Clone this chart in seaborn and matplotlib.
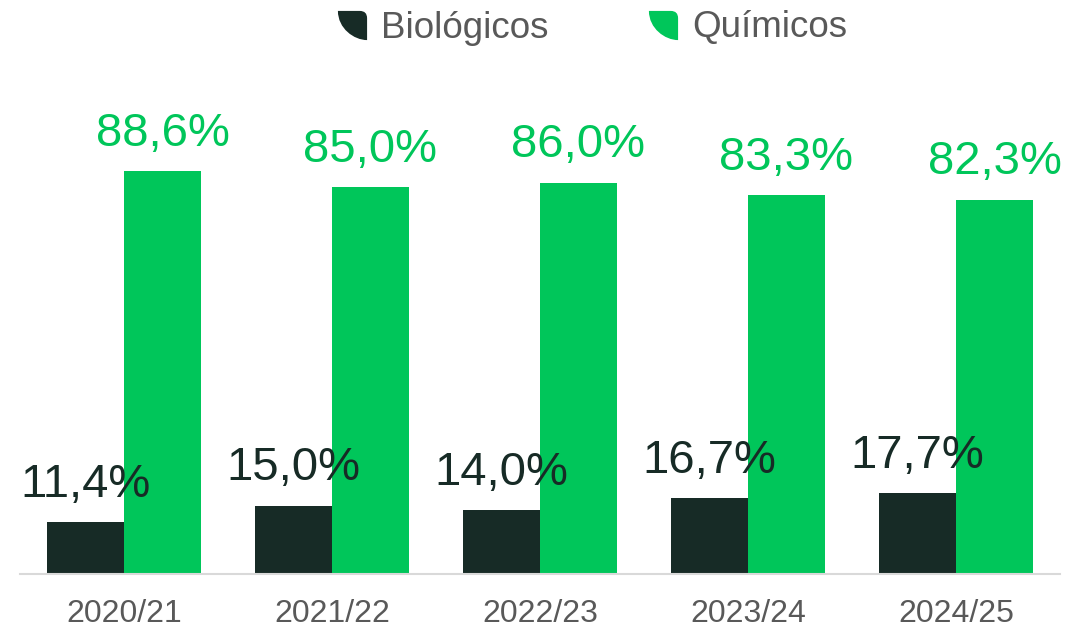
import matplotlib
matplotlib.use("Agg")
import matplotlib.pyplot as plt
from matplotlib.path import Path
from matplotlib.lines import Line2D
import seaborn as sns
import pandas as pd

seasons = ["2020/21", "2021/22", "2022/23", "2023/24", "2024/25"]
biologicos = [11.4, 15.0, 14.0, 16.7, 17.7]
quimicos = [88.6, 85.0, 86.0, 83.3, 82.3]
series_names = ["Biológicos", "Químicos"]

DARK = "#172B26"
GREEN = "#00C65A"
GRAY = "#595959"

df = pd.DataFrame({
    "season": seasons * 2,
    "share": biologicos + quimicos,
    "type": [series_names[0]] * len(seasons) + [series_names[1]] * len(seasons),
})

sns.set_theme(style="white")
plt.rcParams["font.family"] = ["Liberation Sans", "DejaVu Sans"]

fig = plt.figure(figsize=(10.92, 6.30), dpi=100)
ax = fig.add_axes([20 / 1092, 56 / 630, 1040 / 1092, 455 / 630])

sns.barplot(data=df, x="season", y="share", hue="type", order=seasons,
            hue_order=series_names, palette=[DARK, GREEN], width=0.74,
            gap=0, saturation=1, legend=False, ax=ax, linewidth=0)

ax.set_xlim(-0.5, len(seasons) - 0.5)
ax.set_ylim(0, 100)

def pct(v):
    return f"{v:.1f}".replace(".", ",") + "%"

for cont, col in zip(ax.containers, [DARK, GREEN]):
    labels = ax.bar_label(cont, fmt=pct, padding=11, fontsize=34, color=col)
    for t in labels:
        t.set_clip_on(False)

for s in ["top", "left", "right"]:
    ax.spines[s].set_visible(False)
ax.spines["bottom"].set_color("#D9D9D9")
ax.spines["bottom"].set_linewidth(1.5)
ax.set_yticks([])
ax.set_xlabel("")
ax.set_ylabel("")
ax.tick_params(axis="x", length=0, pad=18, labelsize=23, labelcolor=GRAY)

# leaf-shaped legend marker: flat top, rounded top-right corner,
# straight right edge and a curved lower-left edge
leaf = Path(
    [(-1, 1), (0.5, 1), (1, 1), (1, 0.5), (1, -1),
     (0.1, -1), (-1, -0.2), (-1, 1), (-1, 1)],
    [Path.MOVETO, Path.LINETO, Path.CURVE3, Path.CURVE3, Path.LINETO,
     Path.CURVE4, Path.CURVE4, Path.CURVE4, Path.CLOSEPOLY],
)
handles = [Line2D([], [], linestyle="none", marker=leaf, markersize=21,
                  markerfacecolor=c, markeredgewidth=0) for c in (DARK, GREEN)]
fig.legend(handles, series_names, loc="center", ncol=2,
           bbox_to_anchor=(592 / 1092, 1 - 28 / 630), frameon=False,
           fontsize=26.5, labelcolor=GRAY, handlelength=0.8, handletextpad=0.4,
           columnspacing=2.7)

fig.savefig("out.png", dpi=100)
